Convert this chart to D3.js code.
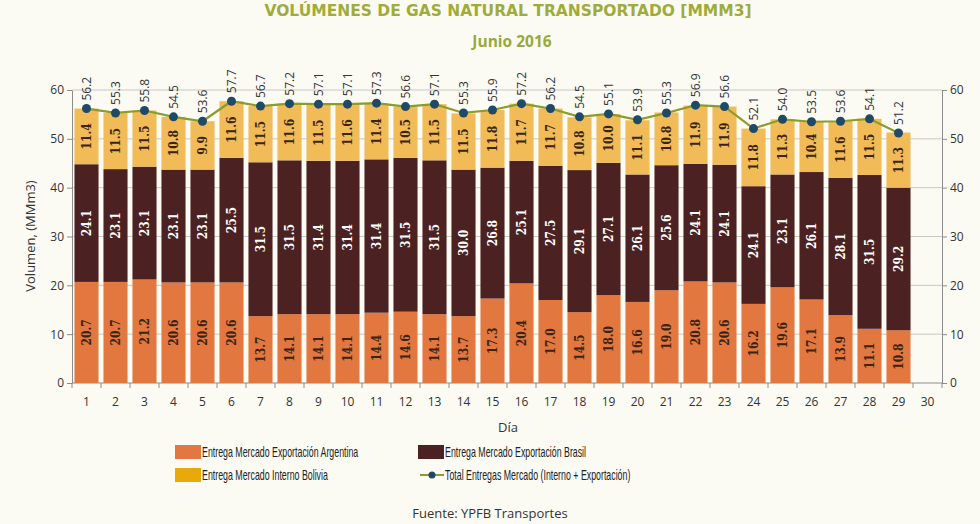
<!DOCTYPE html>
<html><head><meta charset="utf-8">
<script src="https://cdn.jsdelivr.net/npm/d3@7"></script>
<style>
body{margin:0;background:#fbfbf4;}
svg{display:block;}
text{font-family:"Liberation Sans Narrow","Liberation Sans",Arial,sans-serif;}
</style></head>
<body><svg id="c" width="980" height="524"></svg>
<script>
const days = d3.range(1,31).map(String);
const argentina = [20.7,20.7,21.2,20.6,20.6,20.6,13.7,14.1,14.1,14.1,14.4,14.6,14.1,13.7,17.3,20.4,17.0,14.5,18.0,16.6,19.0,20.8,20.6,16.2,19.6,17.1,13.9,11.1,10.8];
const brasil = [24.1,23.1,23.1,23.1,23.1,25.5,31.5,31.5,31.4,31.4,31.4,31.5,31.5,30.0,26.8,25.1,27.5,29.1,27.1,26.1,25.6,24.1,24.1,24.1,23.1,26.1,28.1,31.5,29.2];
const bolivia = [11.4,11.5,11.5,10.8,9.9,11.6,11.5,11.6,11.5,11.6,11.4,10.5,11.5,11.5,11.8,11.7,11.7,10.8,10.0,11.1,10.8,11.9,11.9,11.8,11.3,10.4,11.6,11.5,11.3];
const totals = [56.2,55.3,55.8,54.5,53.6,57.7,56.7,57.2,57.1,57.1,57.3,56.6,57.1,55.3,55.9,57.2,56.2,54.5,55.1,53.9,55.3,56.9,56.6,52.1,54.0,53.5,53.6,54.1,51.2];
const yTicks = [0,10,20,30,40,50,60];
const seriesNames = ["Entrega Mercado Exportación Argentina","Entrega Mercado Exportación Brasil","Entrega Mercado Interno Bolivia","Total Entregas Mercado (Interno + Exportación)"];

const colArg="#e2773f", colBra="#4b2121", colBol="#f1bb58", colBolLeg="#e9a90a", colLine="#8b9b2c", colDot="#1e4a68";

const svg=d3.select("#c");
const L=72,R=942,T=90,B=383;
const x=d3.scaleBand().domain(days).range([L,R]).paddingInner(0.17).paddingOuter(0.085);
const y=d3.scaleLinear().domain([0,60]).range([B,T]);

// title
svg.append("text").attr("x",508).attr("y",16).attr("text-anchor","middle")
  .style("font-family","'DejaVu Sans',sans-serif").style("font-weight","700").style("font-size","16px")
  .attr("textLength",487).attr("lengthAdjust","spacingAndGlyphs")
  .attr("fill","#9fac3a").text("VOLÚMENES DE GAS NATURAL TRANSPORTADO [MMM3]");
svg.append("text").attr("x",512).attr("y",47).attr("text-anchor","middle")
  .style("font-family","'Open Sans',sans-serif").style("font-weight","700").style("font-size","15.5px")
  .attr("fill","#9aa83c").text("Junio 2016");

// grid
svg.append("g").selectAll("line").data(yTicks.filter(d=>d>0)).join("line")
  .attr("x1",L).attr("x2",R).attr("y1",d=>y(d)).attr("y2",d=>y(d))
  .attr("stroke","#c8c8c4").attr("stroke-width",1);

// axes
const axStyle=g=>{g.selectAll("path,line").attr("stroke","#8c8c8c");g.selectAll("text").attr("fill","#333").style("font-size","12px").style("font-family","'Open Sans',sans-serif");};
svg.append("g").attr("transform",`translate(${L},0)`).call(d3.axisLeft(y).tickValues(yTicks).tickSize(5).tickSizeOuter(0)).call(axStyle);
svg.append("g").attr("transform",`translate(${R},0)`).call(d3.axisRight(y).tickValues(yTicks).tickSize(5).tickSizeOuter(0)).call(axStyle);
const xa=svg.append("g").attr("transform",`translate(0,${B})`).call(d3.axisBottom(x).tickSize(0).tickPadding(14).tickSizeOuter(0)).call(axStyle);
xa.select(".domain").attr("d",`M${L},0H${R}`);
xa.selectAll(".bnd").data(d3.range(0,31)).join("line").attr("class","bnd")
  .attr("x1",i=>L+i*(R-L)/30).attr("x2",i=>L+i*(R-L)/30).attr("y1",0).attr("y2",5).attr("stroke","#8c8c8c");

// bars
const rows=argentina.map((a,i)=>({day:days[i],arg:a,bra:brasil[i],bol:bolivia[i],tot:totals[i]}));
const stack=d3.stack().keys(["arg","bra","bol"])(rows);
const cols={arg:colArg,bra:colBra,bol:colBol};
const txtCol={arg:"#3a2414",bra:"#ffffff",bol:"#3a2414"};
stack.forEach(s=>{
  const g=svg.append("g");
  g.selectAll("rect").data(s).join("rect")
    .attr("x",d=>x(d.data.day)).attr("width",x.bandwidth())
    .attr("y",d=>y(d[1])).attr("height",d=>y(d[0])-y(d[1])).attr("fill",cols[s.key]);
  g.selectAll("text").data(s).join("text")
    .attr("transform",d=>`translate(${x(d.data.day)+x.bandwidth()/2+4},${(y(d[0])+y(d[1]))/2}) rotate(-90)`)
    .attr("text-anchor","middle").attr("fill",txtCol[s.key])
    .style("font-size","12px").style("font-family","'DejaVu Serif Condensed','DejaVu Serif',serif").style("font-weight","700")
    .text(d=>d.data[s.key].toFixed(1));
});

// line
const line=d3.line().x(d=>x(d.day)+x.bandwidth()/2).y(d=>y(d.tot));
svg.append("path").datum(rows).attr("d",line).attr("fill","none").attr("stroke",colLine).attr("stroke-width",2.2);
svg.append("g").selectAll("circle").data(rows).join("circle")
  .attr("cx",d=>x(d.day)+x.bandwidth()/2).attr("cy",d=>y(d.tot)).attr("r",4.5).attr("fill",colDot);
svg.append("g").selectAll("text").data(rows).join("text")
  .attr("transform",d=>`translate(${x(d.day)+x.bandwidth()/2+4},${y(d.tot)-8}) rotate(-90)`)
  .attr("text-anchor","start").attr("fill","#333")
  .style("font-size","12px").style("font-family","'Open Sans',sans-serif")
  .text(d=>d.tot.toFixed(1));

// axis titles
svg.append("text").attr("transform",`translate(35,236) rotate(-90)`).attr("text-anchor","middle")
  .style("font-family","'Open Sans',sans-serif").style("font-size","13px").attr("fill","#333").text("Volumen, (MMm3)");
svg.append("text").attr("x",508).attr("y",432).attr("text-anchor","middle")
  .style("font-family","'Open Sans',sans-serif").style("font-size","13px").attr("fill","#333").text("Día");

// legend
const leg=[{n:seriesNames[0],c:colArg,x:175,y:452,t:"rect"},{n:seriesNames[1],c:colBra,x:418,y:452,t:"rect"},
           {n:seriesNames[2],c:colBolLeg,x:175,y:475,t:"rect"},{n:seriesNames[3],c:colLine,x:418,y:475,t:"line"}];
const lg=svg.append("g").selectAll("g").data(leg).join("g").attr("transform",d=>`translate(${d.x},${d.y})`);
lg.filter(d=>d.t==="rect").append("rect").attr("x",0).attr("y",-7).attr("width",26).attr("height",14).attr("fill",d=>d.c);
lg.filter(d=>d.t==="line").append("line").attr("x1",2).attr("x2",26).attr("stroke",colLine).attr("stroke-width",2);
lg.filter(d=>d.t==="line").append("circle").attr("cx",14).attr("r",3.5).attr("fill",colDot);
lg.append("text").attr("transform","translate(27,5) scale(0.63,1)").style("font-size","14px").attr("fill","#222").text(d=>d.n);

svg.append("text").attr("x",490).attr("y",518).attr("text-anchor","middle")
  .style("font-family","'Open Sans',sans-serif").style("font-size","13px").attr("fill","#333").text("Fuente: YPFB Transportes");
</script></body></html>
